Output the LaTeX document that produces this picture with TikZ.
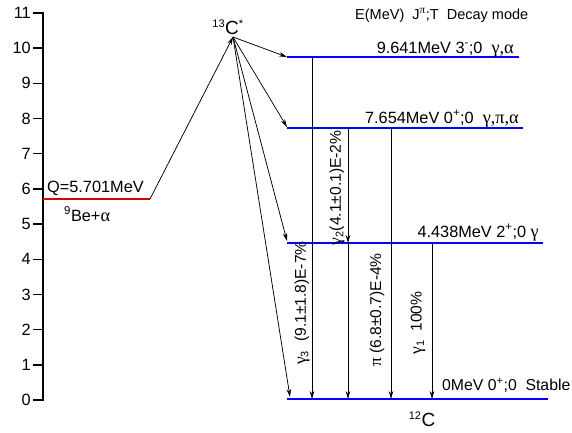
\documentclass[tikz,border=0pt]{standalone}
\usepackage{fontspec}
\usetikzlibrary{arrows.meta}
\setmainfont{Liberation Sans}
\newfontfamily\grk[Scale=1.12]{Liberation Serif}
\newcommand\gr[1]{{\grk #1}}
\newcommand\sps[1]{\textsuperscript{#1}}
\newcommand\sbs[1]{\textsubscript{#1}}
\begin{document}
\begin{tikzpicture}[x=1pt,y=-1pt,
  txt/.style={inner sep=0pt,font=\fontsize{16.3}{19}\selectfont},
  rtxt/.style={inner sep=0pt,rotate=90,font=\fontsize{15.6}{18}\selectfont},
  axisline/.style={line width=2pt},
  level/.style={draw=blue,line width=1.3pt},
  qline/.style={draw=red!85!black,line width=1.3pt},
  arr/.style={-{Stealth[length=8pt,width=4.5pt]},line width=0.75pt},
  trans/.style={arr}]
\useasboundingbox (0,0) rectangle (572,432);
% axis
\coordinate (atop) at (43,12);
\coordinate (abot) at (43,401);
\draw[axisline] (atop) -- (abot);
\foreach \v in {0,...,11}{
  \coordinate (tk\v) at (43,400-35.18*\v);
  \coordinate (tl\v) at (33,400-35.18*\v);
  \draw[line width=1.5pt] (tl\v) -- (tk\v);
  \node[txt,anchor=east] (tn\v) at (31,400-35.18*\v) {\v};
}
% entrance channel
\coordinate (q1) at (43,199);
\coordinate (q2) at (150,199);
\draw[qline] (q1) -- (q2);
\node[txt,anchor=base west] (qlab) at (47,192) {Q=5.701MeV};
\node[txt,anchor=base west] (be) at (64,221) {\sps{9}Be+\gr{α}};
% compound nucleus
\coordinate (o) at (233,37);
\node[inner sep=0pt,font=\fontsize{19}{22}\selectfont,anchor=base] (c13) at (228,34) {\sps{\fontsize{11}{13}\selectfont 13}C\sps{\fontsize{11}{13}\selectfont *}};
\draw[arr] (q2) -- (o);
% levels
\coordinate (l1a) at (287,57);  \coordinate (l1b) at (519,57);
\coordinate (l2a) at (287,128); \coordinate (l2b) at (523,128);
\coordinate (l3a) at (287,243); \coordinate (l3b) at (543,243);
\coordinate (l4a) at (287,399); \coordinate (l4b) at (548,399);
\draw[level] (l1a) -- (l1b);
\draw[level] (l2a) -- (l2b);
\draw[level] (l3a) -- (l3b);
\draw[level] (l4a) -- (l4b);
% feeding arrows
\coordinate (f1) at (287,57);
\coordinate (f2) at (287,127);
\coordinate (f3) at (287,241);
\coordinate (f4) at (290,397);
\foreach \f in {f1,f2,f3,f4}{\draw[arr] (o) -- (\f);}
% level labels
\node[txt,anchor=base east] (n1) at (514,53) {9.641MeV 3\sps{-};0 \ \gr{γ,α}};
\node[txt,anchor=base east] (n2) at (519,123) {7.654MeV 0\sps{+};0 \ \gr{γ,π,α}};
\node[txt,anchor=base east] (n3) at (539,237) {4.438MeV 2\sps{+};0 \gr{γ}};
\node[txt,anchor=base west,font=\fontsize{15.8}{19}\selectfont] (n4) at (442,390) {0MeV 0\sps{+};0 \ Stable};
\node[txt,anchor=base west,font=\fontsize{14.5}{17}\selectfont] (hdr) at (355,19) {E(MeV) \ J\sps{\gr{π}};T \ Decay mode};
\node[inner sep=0pt,font=\fontsize{19}{22}\selectfont,anchor=base] (c12) at (422,426) {\sps{\fontsize{11}{13}\selectfont 12}C};
% transitions
\coordinate (g3a) at (312,57);  \coordinate (g3b) at (312,399);
\coordinate (g2a) at (348,128); \coordinate (g2b) at (348,243);
\coordinate (g2c) at (348,399);
\coordinate (pa) at (391,128);  \coordinate (pb) at (391,399);
\coordinate (g1a) at (432,243); \coordinate (g1b) at (432,399);
\draw[trans] (g3a) -- (g3b);
\draw[trans] (g2a) -- (g2b);
\draw[trans] (g2b) -- (g2c);
\draw[trans] (pa) -- (pb);
\draw[trans] (g1a) -- (g1b);
\node[rtxt] (t3) at (302,303) {\gr{γ}\sbs{3} \ (9.1±1.8)E-7\%};
\node[rtxt] (t2) at (337,188) {\gr{γ}\sbs{2}(4.1±0.1)E-2\%};
\node[rtxt] (tp) at (377,310) {\gr{π} (6.8±0.7)E-4\%};
\node[rtxt] (t1) at (418,323) {\gr{γ}\sbs{1} \ 100\%};
\end{tikzpicture}
\end{document}
